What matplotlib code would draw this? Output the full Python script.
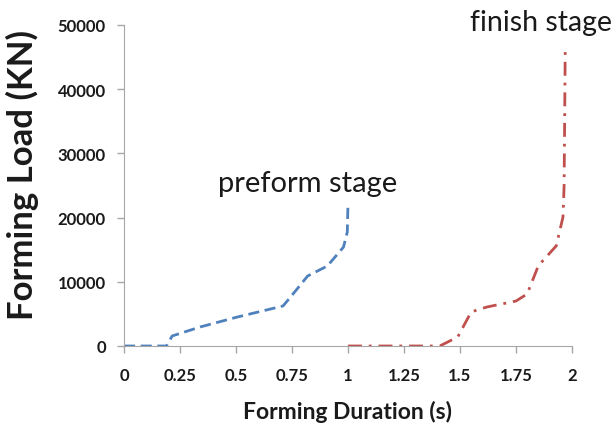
import matplotlib
matplotlib.use("Agg")
import matplotlib.pyplot as plt

# preform stage (blue dashed)
pre_t = [0, 0.19, 0.215, 0.34, 0.505, 0.71, 0.743, 0.82, 0.908, 0.98, 0.997, 1.0]
pre_load = [0, 0, 1560, 2960, 4500, 6230, 7600, 10900, 12460, 15400, 17750, 22100]

# finish stage (red dash-dot)
fin_t = [1.0, 1.41, 1.49, 1.55, 1.62, 1.75, 1.80, 1.85, 1.93, 1.96, 1.965, 1.97]
fin_load = [0, 0, 1400, 5300, 6070, 7000, 8100, 12500, 15600, 20100, 25000, 46300]

x_ticks = [0, 0.25, 0.5, 0.75, 1, 1.25, 1.5, 1.75, 2]
x_labels = ["0", "0.25", "0.5", "0.75", "1", "1.25", "1.5", "1.75", "2"]
y_ticks = [0, 10000, 20000, 30000, 40000, 50000]

plt.rcParams['font.family'] = ['Lato', 'DejaVu Sans']

fig = plt.figure(figsize=(6.15, 4.39), dpi=100)
ax = fig.add_axes([0.2016, 0.2096, 0.7284, 0.7312])

ax.plot(pre_t, pre_load, color="#4f81bd", linestyle=(0, (4, 2)), linewidth=2)
ax.plot(fin_t, fin_load, color="#c0504d", linestyle=(0, (5, 2.5, 1, 2.5)), linewidth=2)

ax.set_xlim(0, 2)
ax.set_ylim(0, 50000)
ax.set_xticks(x_ticks)
ax.set_xticklabels(x_labels)
ax.set_yticks(y_ticks)

for s in ["top", "right"]:
    ax.spines[s].set_visible(False)
for s in ["left", "bottom"]:
    ax.spines[s].set_color("#a6a6a6")
ax.tick_params(colors="#a6a6a6", length=5, width=1, labelcolor="#1a1a1a",
               labelsize=12)
ax.tick_params(axis="x", pad=10)
ax.tick_params(axis="y", pad=8)
for lab in ax.get_xticklabels() + ax.get_yticklabels():
    lab.set_fontweight("bold")

ax.set_xlabel("Forming Duration (s)", fontsize=16.5, fontweight="bold",
              color="#1a1a1a", labelpad=12)
ax.set_ylabel("Forming Load (KN)", fontsize=25, fontweight="bold",
              color="#1a1a1a")
ax.yaxis.set_label_coords(-0.19, 0.535)

ax.text(0.82, 24100, "preform stage", fontsize=21, color="#1a1a1a", ha="center")
ax.text(1.86, 49200, "finish stage", fontsize=20.5, color="#1a1a1a", ha="center")

fig.savefig("out.png", dpi=100)
